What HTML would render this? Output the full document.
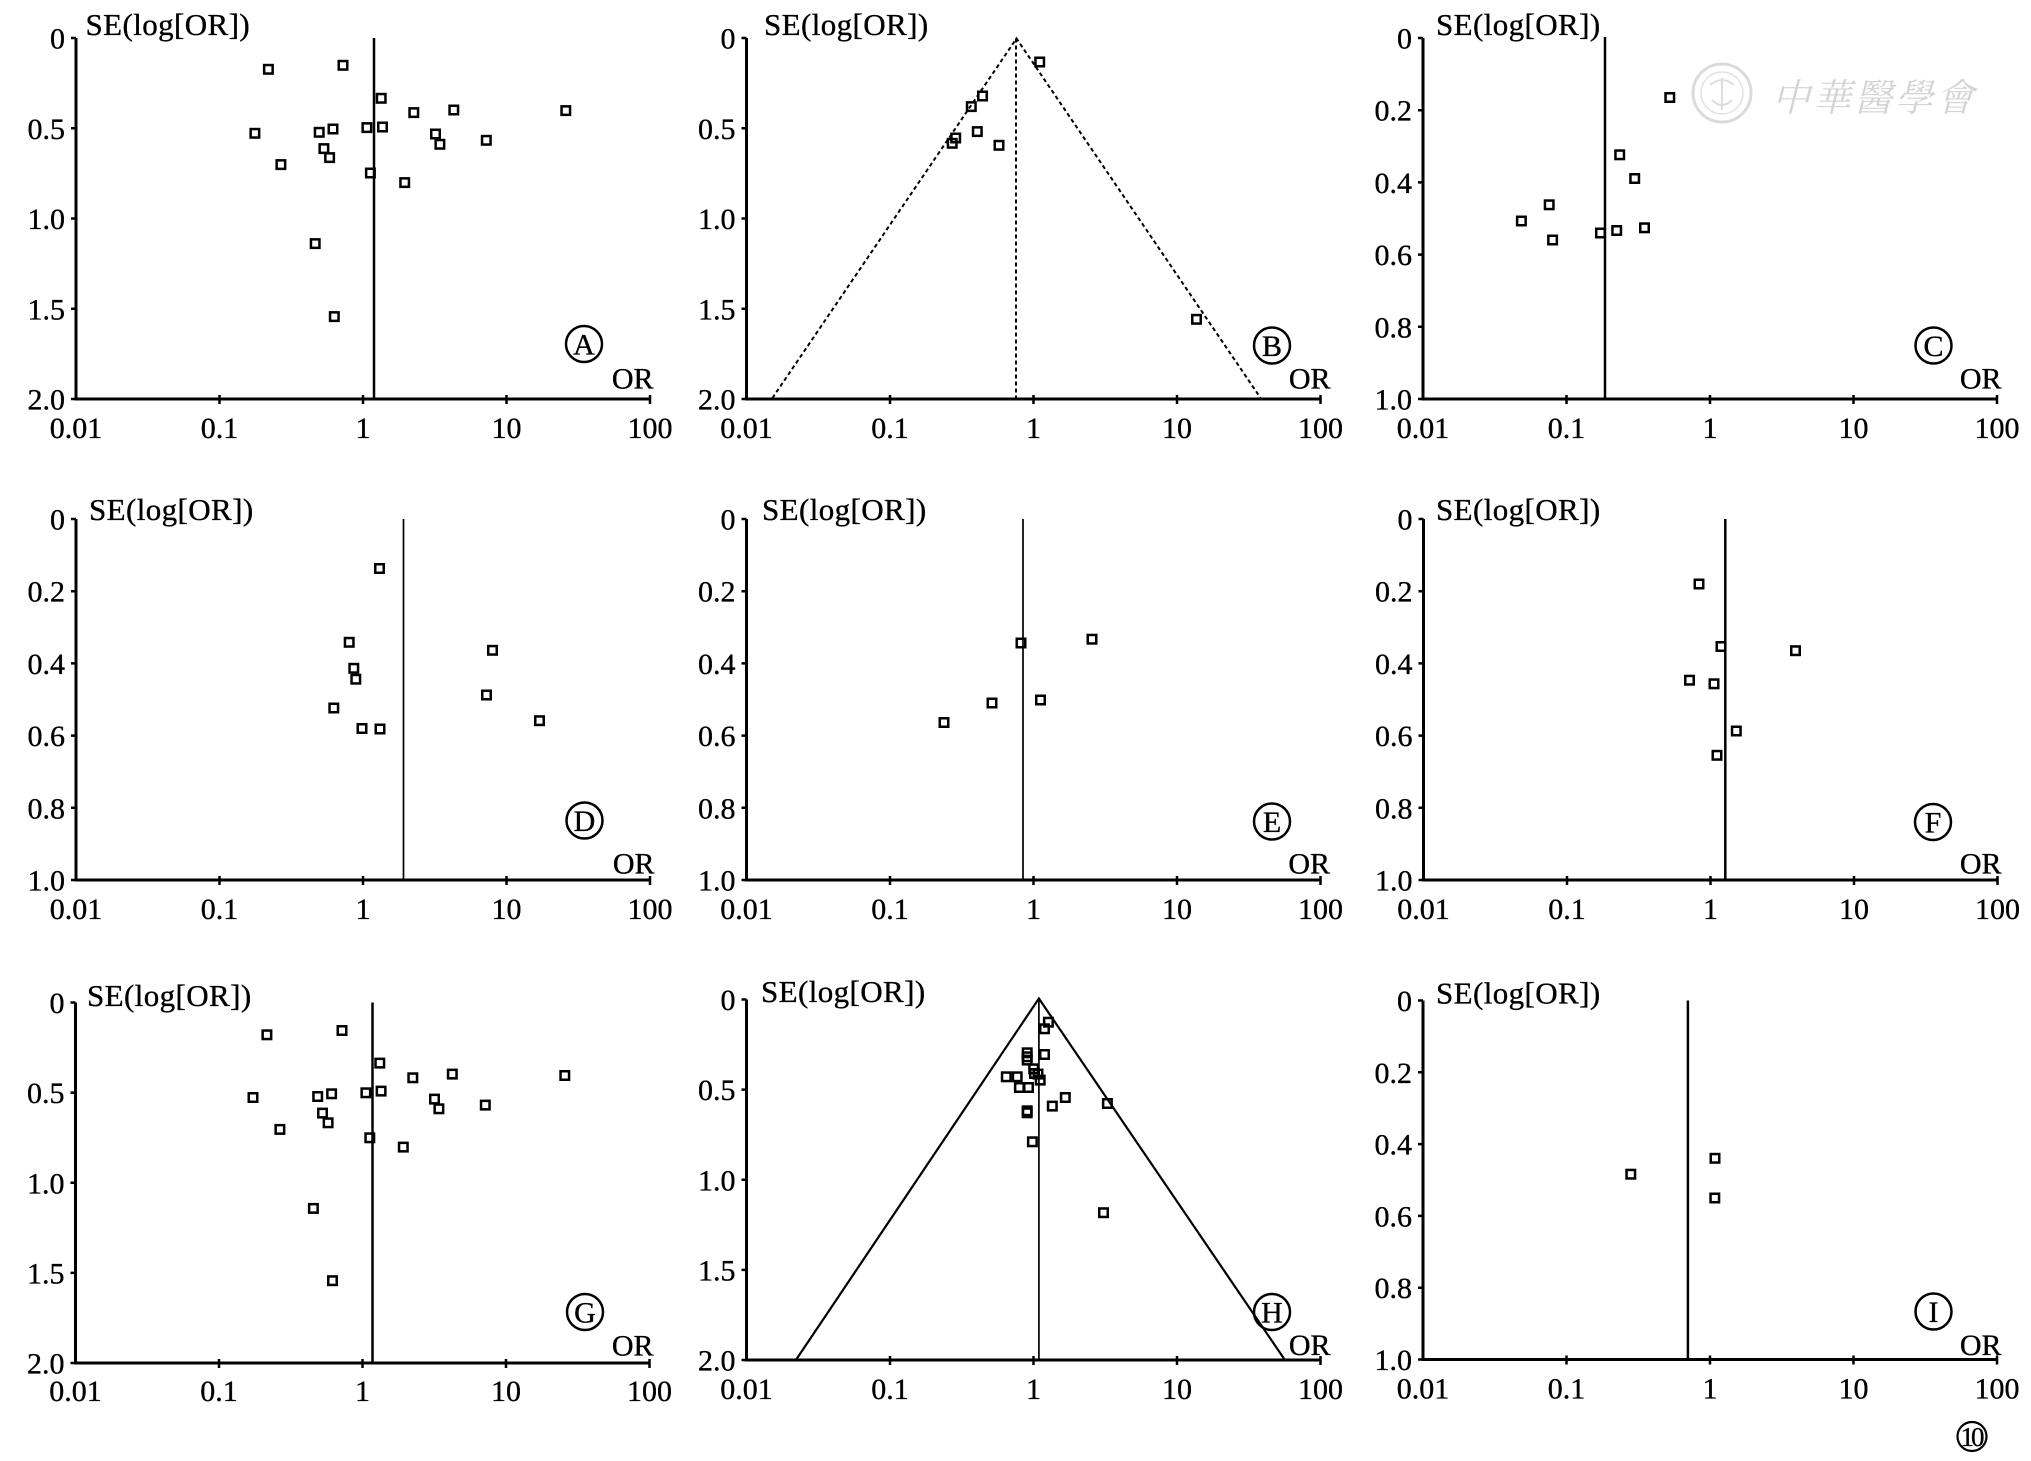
<!DOCTYPE html>
<html><head><meta charset="utf-8"><style>
html,body{margin:0;padding:0;background:#fff;}
svg{display:block;}
text{font-family:"Liberation Serif","Noto Serif CJK SC",serif;fill:#000;stroke:#000;stroke-width:0.35px;}
.ty{font-size:30px;text-anchor:end;}
.tx{font-size:30px;text-anchor:middle;}
.se{font-size:31px;letter-spacing:0.4px;}
.or{font-size:30px;text-anchor:end;}
.cl{font-size:30px;text-anchor:middle;}
.ax{fill:none;stroke:#000;stroke-width:3;}
.tk{fill:none;stroke:#000;stroke-width:2.5;}
.ref{stroke:#000;stroke-width:2.5;}
.refn{stroke:#000;stroke-width:1.7;}
.cc{fill:none;stroke:#000;stroke-width:2.5;}
</style></head><body>
<svg width="2031" height="1461" viewBox="0 0 2031 1461" xmlns="http://www.w3.org/2000/svg">
<defs>
<rect id="m" x="-4.25" y="-4.25" width="8.5" height="8.5" fill="none" stroke="#000" stroke-width="2.5"/>
</defs>
<rect width="2031" height="1461" fill="#fff"/>

<!-- ============ PANEL A ============ -->
<path class="ax" d="M76 38V399H650"/>
<path class="tk" d="M71 38H76M71 128.3H76M71 218.5H76M71 308.8H76M71 399H76M219.5 395V404M363 395V404M506.5 395V404M650 395V404"/>
<text class="ty" x="65" y="48.5">0</text>
<text class="ty" x="65" y="138.8">0.5</text>
<text class="ty" x="65" y="229">1.0</text>
<text class="ty" x="65" y="319.3">1.5</text>
<text class="ty" x="65" y="409.5">2.0</text>
<text class="tx" x="76" y="438">0.01</text>
<text class="tx" x="219.5" y="438">0.1</text>
<text class="tx" x="363" y="438">1</text>
<text class="tx" x="506.5" y="438">10</text>
<text class="tx" x="650" y="438">100</text>
<text class="se" x="85.5" y="35">SE(log[OR])</text>
<text class="or" x="653.5" y="388.5">OR</text>
<circle class="cc" cx="584" cy="344" r="18"/>
<text class="cl" x="584" y="354.5">A</text>
<line class="ref" x1="374" y1="38" x2="374" y2="399"/>
<use href="#m" x="268.4" y="69.3"/><use href="#m" x="343" y="65.3"/><use href="#m" x="381.2" y="98.3"/>
<use href="#m" x="413.8" y="112.6"/><use href="#m" x="453.8" y="110"/><use href="#m" x="565.8" y="110.6"/>
<use href="#m" x="254.9" y="133.3"/><use href="#m" x="319.2" y="132.3"/><use href="#m" x="333" y="129"/>
<use href="#m" x="366.9" y="127.6"/><use href="#m" x="382.5" y="127"/><use href="#m" x="435.5" y="134"/>
<use href="#m" x="439.9" y="144.3"/><use href="#m" x="486.3" y="140.3"/><use href="#m" x="323.9" y="148.6"/>
<use href="#m" x="329.6" y="157.6"/><use href="#m" x="280.9" y="164.6"/><use href="#m" x="370.4" y="173"/>
<use href="#m" x="404.7" y="182.6"/><use href="#m" x="315.2" y="243.6"/><use href="#m" x="334.3" y="316.6"/>

<!-- ============ PANEL B ============ -->
<path class="ax" d="M746.5 38V399H1320.5"/>
<path class="tk" d="M741.5 38H746.5M741.5 128.3H746.5M741.5 218.5H746.5M741.5 308.8H746.5M741.5 399H746.5M890 395V404M1033.5 395V404M1177 395V404M1320.5 395V404"/>
<text class="ty" x="735.5" y="48.5">0</text>
<text class="ty" x="735.5" y="138.8">0.5</text>
<text class="ty" x="735.5" y="229">1.0</text>
<text class="ty" x="735.5" y="319.3">1.5</text>
<text class="ty" x="735.5" y="409.5">2.0</text>
<text class="tx" x="746.5" y="438">0.01</text>
<text class="tx" x="890" y="438">0.1</text>
<text class="tx" x="1033.5" y="438">1</text>
<text class="tx" x="1177" y="438">10</text>
<text class="tx" x="1320.5" y="438">100</text>
<text class="se" x="764" y="35">SE(log[OR])</text>
<text class="or" x="1330.5" y="388.5">OR</text>
<circle class="cc" cx="1272" cy="345.5" r="18"/>
<text class="cl" x="1272" y="356">B</text>
<g stroke="#000" stroke-width="2" stroke-dasharray="4 3" fill="none">
<path d="M772.4 398L1016.5 38.5L1260.6 398"/>
<line x1="1016" y1="38.5" x2="1016" y2="399"/>
</g>
<use href="#m" x="1039.7" y="62"/><use href="#m" x="982.5" y="96"/><use href="#m" x="971.3" y="106.6"/>
<use href="#m" x="977.3" y="131.6"/><use href="#m" x="955.7" y="138"/><use href="#m" x="952.2" y="143.3"/>
<use href="#m" x="999" y="145.3"/><use href="#m" x="1196.5" y="319.3"/>

<!-- ============ PANEL C ============ -->
<g opacity="0.6">
<circle cx="1722" cy="93" r="29" fill="none" stroke="#c4c4c4" stroke-width="3"/>
<circle cx="1722" cy="93" r="21" fill="none" stroke="#d0d0d0" stroke-width="1.5"/>
<path d="M1710 85q12 -10 24 0M1712 100q10 10 20 0M1722 78V110" fill="none" stroke="#c8c8c8" stroke-width="2"/>
<text x="1772" y="111" style="font-family:'Noto Serif CJK SC','Noto Sans CJK SC',serif;font-size:38px;fill:#b8b8b8;stroke:none;letter-spacing:3px;font-style:italic;">中華醫學會</text>
</g>
<path class="ax" d="M1423 38V399H1997"/>
<path class="tk" d="M1418 38H1423M1418 110.2H1423M1418 182.4H1423M1418 254.6H1423M1418 326.8H1423M1418 399H1423M1566.5 395V404M1710 395V404M1853.5 395V404M1997 395V404"/>
<text class="ty" x="1412" y="48.5">0</text>
<text class="ty" x="1412" y="120.7">0.2</text>
<text class="ty" x="1412" y="192.9">0.4</text>
<text class="ty" x="1412" y="265.1">0.6</text>
<text class="ty" x="1412" y="337.3">0.8</text>
<text class="ty" x="1412" y="409.5">1.0</text>
<text class="tx" x="1423" y="438">0.01</text>
<text class="tx" x="1566.5" y="438">0.1</text>
<text class="tx" x="1710" y="438">1</text>
<text class="tx" x="1853.5" y="438">10</text>
<text class="tx" x="1997" y="438">100</text>
<text class="se" x="1436" y="35">SE(log[OR])</text>
<text class="or" x="2001.5" y="388.5">OR</text>
<circle class="cc" cx="1933.5" cy="345.5" r="18"/>
<text class="cl" x="1933.5" y="356">C</text>
<line class="ref" x1="1605" y1="37" x2="1605" y2="399"/>
<use href="#m" x="1669.8" y="97.5"/><use href="#m" x="1619.7" y="154.8"/><use href="#m" x="1634.7" y="178.5"/>
<use href="#m" x="1549.2" y="204.8"/><use href="#m" x="1521.4" y="221"/><use href="#m" x="1552.6" y="240"/>
<use href="#m" x="1600.5" y="233"/><use href="#m" x="1616.7" y="230.5"/><use href="#m" x="1644.5" y="227.8"/>

<!-- ============ PANEL D ============ -->
<path class="ax" d="M76 519V880H650"/>
<path class="tk" d="M71 519H76M71 591.2H76M71 663.4H76M71 735.6H76M71 807.8H76M71 880H76M219.5 876V885M363 876V885M506.5 876V885M650 876V885"/>
<text class="ty" x="65" y="529.5">0</text>
<text class="ty" x="65" y="601.7">0.2</text>
<text class="ty" x="65" y="673.9">0.4</text>
<text class="ty" x="65" y="746.1">0.6</text>
<text class="ty" x="65" y="818.3">0.8</text>
<text class="ty" x="65" y="890.5">1.0</text>
<text class="tx" x="76" y="919">0.01</text>
<text class="tx" x="219.5" y="919">0.1</text>
<text class="tx" x="363" y="919">1</text>
<text class="tx" x="506.5" y="919">10</text>
<text class="tx" x="650" y="919">100</text>
<text class="se" x="89" y="520">SE(log[OR])</text>
<text class="or" x="654.5" y="873.5">OR</text>
<circle class="cc" cx="584.5" cy="820.5" r="18"/>
<text class="cl" x="584.5" y="831">D</text>
<line class="refn" x1="403.5" y1="519" x2="403.5" y2="880"/>
<use href="#m" x="379.5" y="568.5"/><use href="#m" x="349.2" y="642.3"/><use href="#m" x="492.5" y="650.3"/>
<use href="#m" x="353.8" y="668.3"/><use href="#m" x="355.8" y="679.2"/><use href="#m" x="486.5" y="695"/>
<use href="#m" x="333.8" y="708"/><use href="#m" x="539.5" y="720.7"/><use href="#m" x="362" y="728.5"/>
<use href="#m" x="380" y="729"/>

<!-- ============ PANEL E ============ -->
<path class="ax" d="M746.5 519V880H1320.5"/>
<path class="tk" d="M741.5 519H746.5M741.5 591.2H746.5M741.5 663.4H746.5M741.5 735.6H746.5M741.5 807.8H746.5M741.5 880H746.5M890 876V885M1033.5 876V885M1177 876V885M1320.5 876V885"/>
<text class="ty" x="735.5" y="529.5">0</text>
<text class="ty" x="735.5" y="601.7">0.2</text>
<text class="ty" x="735.5" y="673.9">0.4</text>
<text class="ty" x="735.5" y="746.1">0.6</text>
<text class="ty" x="735.5" y="818.3">0.8</text>
<text class="ty" x="735.5" y="890.5">1.0</text>
<text class="tx" x="746.5" y="919">0.01</text>
<text class="tx" x="890" y="919">0.1</text>
<text class="tx" x="1033.5" y="919">1</text>
<text class="tx" x="1177" y="919">10</text>
<text class="tx" x="1320.5" y="919">100</text>
<text class="se" x="762" y="520">SE(log[OR])</text>
<text class="or" x="1330" y="873.5">OR</text>
<circle class="cc" cx="1272" cy="821.5" r="18"/>
<text class="cl" x="1272" y="832">E</text>
<line class="refn" x1="1023" y1="519" x2="1023" y2="880"/>
<use href="#m" x="1021" y="643"/><use href="#m" x="1092" y="639.2"/><use href="#m" x="992" y="703"/>
<use href="#m" x="1040.5" y="700"/><use href="#m" x="944" y="722.5"/>

<!-- ============ PANEL F ============ -->
<path class="ax" d="M1423.5 519V880H1997.5"/>
<path class="tk" d="M1418.5 519H1423.5M1418.5 591.2H1423.5M1418.5 663.4H1423.5M1418.5 735.6H1423.5M1418.5 807.8H1423.5M1418.5 880H1423.5M1567 876V885M1710.5 876V885M1854 876V885M1997.5 876V885"/>
<text class="ty" x="1412.5" y="529.5">0</text>
<text class="ty" x="1412.5" y="601.7">0.2</text>
<text class="ty" x="1412.5" y="673.9">0.4</text>
<text class="ty" x="1412.5" y="746.1">0.6</text>
<text class="ty" x="1412.5" y="818.3">0.8</text>
<text class="ty" x="1412.5" y="890.5">1.0</text>
<text class="tx" x="1423.5" y="919">0.01</text>
<text class="tx" x="1567" y="919">0.1</text>
<text class="tx" x="1710.5" y="919">1</text>
<text class="tx" x="1854" y="919">10</text>
<text class="tx" x="1997.5" y="919">100</text>
<text class="se" x="1436" y="520">SE(log[OR])</text>
<text class="or" x="2001.5" y="873.5">OR</text>
<circle class="cc" cx="1933" cy="822" r="18"/>
<text class="cl" x="1933" y="832.5">F</text>
<line class="ref" x1="1725.3" y1="519" x2="1725.3" y2="880"/>
<use href="#m" x="1699" y="584"/><use href="#m" x="1721" y="646.5"/><use href="#m" x="1795.5" y="650.7"/>
<use href="#m" x="1689.5" y="680.2"/><use href="#m" x="1714" y="683.8"/><use href="#m" x="1736.3" y="731"/>
<use href="#m" x="1717" y="755.3"/>

<!-- ============ PANEL G ============ -->
<path class="ax" d="M75.5 1002.5V1363H649.5"/>
<path class="tk" d="M70.5 1002.5H75.5M70.5 1092.6H75.5M70.5 1182.8H75.5M70.5 1272.9H75.5M70.5 1363H75.5M219 1359V1368M362.5 1359V1368M506 1359V1368M649.5 1359V1368"/>
<text class="ty" x="64.5" y="1013">0</text>
<text class="ty" x="64.5" y="1103.1">0.5</text>
<text class="ty" x="64.5" y="1193.3">1.0</text>
<text class="ty" x="64.5" y="1283.4">1.5</text>
<text class="ty" x="64.5" y="1373.5">2.0</text>
<text class="tx" x="75.5" y="1401">0.01</text>
<text class="tx" x="219" y="1401">0.1</text>
<text class="tx" x="362.5" y="1401">1</text>
<text class="tx" x="506" y="1401">10</text>
<text class="tx" x="649.5" y="1401">100</text>
<text class="se" x="87" y="1006">SE(log[OR])</text>
<text class="or" x="653.5" y="1355.5">OR</text>
<circle class="cc" cx="585" cy="1312" r="18"/>
<text class="cl" x="585" y="1322.5">G</text>
<line class="ref" x1="372.5" y1="1002.5" x2="372.5" y2="1363"/>
<use href="#m" x="266.9" y="1034.8"/><use href="#m" x="342" y="1030.5"/><use href="#m" x="379.8" y="1063.1"/>
<use href="#m" x="412.8" y="1077.8"/><use href="#m" x="452.3" y="1074.1"/><use href="#m" x="564.8" y="1075.5"/>
<use href="#m" x="253" y="1097.5"/><use href="#m" x="317.7" y="1096.5"/><use href="#m" x="331.6" y="1093.8"/>
<use href="#m" x="365.9" y="1092.8"/><use href="#m" x="381.1" y="1091.1"/><use href="#m" x="434.5" y="1099.1"/>
<use href="#m" x="438.9" y="1108.8"/><use href="#m" x="485.3" y="1105.1"/><use href="#m" x="322.5" y="1113.1"/>
<use href="#m" x="328.1" y="1122.8"/><use href="#m" x="279.9" y="1129.4"/><use href="#m" x="369.8" y="1137.8"/>
<use href="#m" x="403.3" y="1147.1"/><use href="#m" x="313.4" y="1208.4"/><use href="#m" x="332.5" y="1280.7"/>

<!-- ============ PANEL H ============ -->
<path class="ax" d="M746.5 999.5V1360H1320.5"/>
<path class="tk" d="M741.5 999.5H746.5M741.5 1089.6H746.5M741.5 1179.8H746.5M741.5 1269.9H746.5M741.5 1360H746.5M890 1356V1365M1033.5 1356V1365M1177 1356V1365M1320.5 1356V1365"/>
<text class="ty" x="735.5" y="1010">0</text>
<text class="ty" x="735.5" y="1100.1">0.5</text>
<text class="ty" x="735.5" y="1190.3">1.0</text>
<text class="ty" x="735.5" y="1280.4">1.5</text>
<text class="ty" x="735.5" y="1370.5">2.0</text>
<text class="tx" x="746.5" y="1399">0.01</text>
<text class="tx" x="890" y="1399">0.1</text>
<text class="tx" x="1033.5" y="1399">1</text>
<text class="tx" x="1177" y="1399">10</text>
<text class="tx" x="1320.5" y="1399">100</text>
<text class="se" x="761" y="1002">SE(log[OR])</text>
<text class="or" x="1330.5" y="1355">OR</text>
<path d="M795.9 1360L1038.9 998.5L1284.9 1360" fill="none" stroke="#000" stroke-width="2.2"/>
<line class="refn" x1="1038.9" y1="999" x2="1038.9" y2="1360"/>
<circle class="cc" cx="1272" cy="1312" r="18"/>
<text class="cl" x="1272" y="1322.5">H</text>
<use href="#m" x="1048.4" y="1022.2"/><use href="#m" x="1044.5" y="1028.8"/><use href="#m" x="1027.2" y="1052.8"/>
<use href="#m" x="1027.2" y="1056.8"/><use href="#m" x="1044.5" y="1054.5"/><use href="#m" x="1027.2" y="1060.1"/>
<use href="#m" x="1033.7" y="1068.8"/><use href="#m" x="1034.5" y="1073.5"/><use href="#m" x="1038" y="1074.1"/>
<use href="#m" x="1040.2" y="1080.1"/><use href="#m" x="1006.3" y="1076.8"/><use href="#m" x="1017.2" y="1076.8"/>
<use href="#m" x="1019.4" y="1087.5"/><use href="#m" x="1028.5" y="1087.5"/><use href="#m" x="1065.3" y="1097.5"/>
<use href="#m" x="1052.3" y="1106.1"/><use href="#m" x="1107.4" y="1103.5"/><use href="#m" x="1027.2" y="1110.8"/>
<use href="#m" x="1027.2" y="1112.8"/><use href="#m" x="1032.4" y="1141.8"/><use href="#m" x="1103.5" y="1212.7"/>

<!-- ============ PANEL I ============ -->
<path class="ax" d="M1423 1000.5V1359.5H1997"/>
<path class="tk" d="M1418 1000.5H1423M1418 1072.3H1423M1418 1144.1H1423M1418 1215.9H1423M1418 1287.7H1423M1418 1359.5H1423M1566.5 1355.5V1364.5M1710 1355.5V1364.5M1853.5 1355.5V1364.5M1997 1355.5V1364.5"/>
<text class="ty" x="1412" y="1011">0</text>
<text class="ty" x="1412" y="1082.8">0.2</text>
<text class="ty" x="1412" y="1154.6">0.4</text>
<text class="ty" x="1412" y="1226.4">0.6</text>
<text class="ty" x="1412" y="1298.2">0.8</text>
<text class="ty" x="1412" y="1370">1.0</text>
<text class="tx" x="1423" y="1398.5">0.01</text>
<text class="tx" x="1566.5" y="1398.5">0.1</text>
<text class="tx" x="1710" y="1398.5">1</text>
<text class="tx" x="1853.5" y="1398.5">10</text>
<text class="tx" x="1997" y="1398.5">100</text>
<text class="se" x="1436" y="1003.5">SE(log[OR])</text>
<text class="or" x="2001.5" y="1355">OR</text>
<circle class="cc" cx="1933.5" cy="1311.5" r="18"/>
<text class="cl" x="1933.5" y="1322">I</text>
<line class="ref" x1="1687.9" y1="1000.5" x2="1687.9" y2="1359.5"/>
<use href="#m" x="1715" y="1158.3"/><use href="#m" x="1630.8" y="1174.2"/><use href="#m" x="1714.8" y="1198"/>

<!-- figure number -->
<circle cx="1972" cy="1436.5" r="14.5" fill="none" stroke="#000" stroke-width="2.2"/>
<text x="1971" y="1446" style="font-size:27px;text-anchor:middle;letter-spacing:-3px;">10</text>
</svg>
</body></html>
